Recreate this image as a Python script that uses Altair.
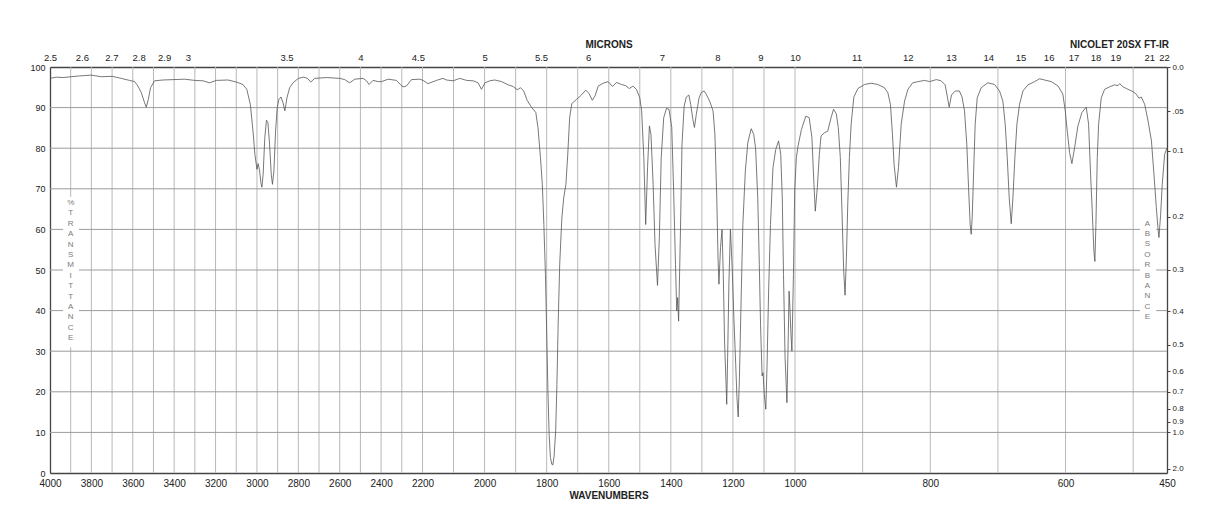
import altair as alt
import pandas as pd

# ---------------- data ----------------
WAVENUMBER = [
    4000, 3970, 3938, 3898, 3857, 3801, 3753, 3699, 3656, 3616, 3591, 3575, 3559, 3543, 3535,
    3525, 3514, 3495, 3454, 3401, 3350, 3301, 3261, 3229, 3196, 3140, 3100, 3068, 3049, 3032,
    3019, 3010, 3000, 2994, 2987, 2981, 2976, 2970, 2962, 2954, 2947, 2939, 2931, 2925, 2918,
    2910, 2902, 2894, 2884, 2874, 2865, 2855, 2842, 2826, 2800, 2774, 2756, 2740, 2721, 2664,
    2600, 2576, 2552, 2527, 2487, 2471, 2458, 2439, 2414, 2398, 2366, 2326, 2307, 2294, 2278,
    2253, 2213, 2198, 2182,
    2155, 2134, 2123, 2101, 2080, 2058, 2037, 2021, 2010, 1999, 1983, 1967, 1945, 1924, 1908,
    1895, 1884, 1874, 1863, 1849, 1835, 1828, 1820, 1814, 1809, 1804, 1800, 1796, 1792, 1788,
    1783, 1780, 1776, 1771, 1767, 1763, 1758, 1751, 1745, 1738, 1732, 1726, 1719, 1704, 1688,
    1674, 1663, 1653, 1644, 1634, 1618, 1602, 1588, 1575, 1559, 1545, 1534, 1522, 1511, 1500,
    1494, 1487, 1481, 1475, 1469, 1464, 1457, 1451, 1443, 1437, 1431, 1423, 1414, 1406, 1397,
    1391, 1385, 1381, 1378, 1375, 1369, 1364, 1357, 1350, 1342, 1336, 1329, 1324, 1318, 1309,
    1302, 1293, 1286, 1275, 1264, 1258, 1252, 1248, 1245, 1240, 1235, 1231, 1227, 1222, 1220,
    1217, 1213, 1208, 1202, 1197, 1191, 1187, 1183, 1179, 1173, 1168, 1160, 1152, 1141, 1133,
    1127, 1120, 1115, 1111, 1106, 1103, 1099, 1094, 1090, 1085, 1079, 1071, 1062, 1053, 1046,
    1041, 1037, 1032, 1026, 1022, 1019, 1016, 1013, 1010, 1005, 1001,
    998, 995.5, 990.5, 984, 979, 975, 972, 970, 967, 964,
    961.5, 956.5, 951.6, 946.7, 943, 939, 936, 933, 930.4, 928, 926, 924, 922, 919.6, 917,
    913, 907, 897, 887.5, 877.7, 867.8, 862.8, 858.9, 855.9, 853.5, 850, 847, 843, 838, 833,
    826, 818, 808.5, 801, 791, 784, 778, 774.5, 772, 768.6, 763, 757, 753, 749.4, 746,
    743.4, 741, 739.5, 738, 736, 733.6, 730.6, 724.7, 715, 705, 697.6, 692.7, 689.2, 686.2,
    683.3, 680.3, 677.8, 674.9, 671.9, 668, 663, 655.6, 645.8, 638.4, 631, 621, 611, 604,
    600.4, 597.5, 594, 590.6, 586.6, 581.7, 575.8, 569.4, 565.9, 563, 560.5, 558.1, 556.6,
    555.1, 553.1, 551.1, 547.2, 542.3, 535, 527.5, 522.5, 520, 515, 510, 505, 500, 495.4,
    491.5, 488, 483, 478, 473, 469.3, 465.8, 463.4, 461.9, 459.4, 457, 453.5, 450,
]
TRANSMITTANCE = [
    97.2, 97.5, 97.4, 97.6, 97.8, 98.0, 97.6, 97.7, 97.2, 96.7, 96.4, 95.3, 93.7, 91.2, 90.1,
    92.0, 94.9, 96.6, 96.8, 96.9, 97.0, 96.7, 96.6, 96.1, 96.7, 96.8, 96.3, 95.7, 94.5, 90.8,
    84.2, 78.5, 74.8, 76.2, 74.4, 71.5, 70.4, 73.6, 82.6, 86.9, 86.3, 81.0, 73.6, 71.1, 74.4,
    84.2, 90.0, 92.0, 92.6, 91.2, 89.2, 92.4, 94.9, 96.1, 97.2, 97.5, 97.2, 96.3, 97.2, 97.4,
    97.2, 96.9, 96.1, 97.0, 97.2, 96.6, 95.7, 96.7, 96.4, 96.4, 97.0, 96.7, 95.7, 95.1, 95.3,
    96.9, 97.0, 96.7, 95.9,
    96.7, 97.2, 96.8, 96.6, 97.2, 96.7, 96.6, 96.1, 94.5, 96.1, 96.6, 96.8, 96.4, 95.6, 95.2,
    94.4, 94.9, 94.1, 91.8, 90.1, 88.8, 85.1, 77.7, 71.1, 61.2, 48.9, 35.0, 20.2, 9.5, 3.8,
    2.1, 2.0, 4.2, 10.3, 21.8, 36.6, 51.4, 62.9, 67.8, 71.1, 78.5, 87.5, 91.0, 92.0, 93.1,
    94.3, 93.4, 91.8, 92.9, 95.3, 96.0, 96.4, 95.2, 96.2, 95.7, 95.4, 94.7, 95.3, 94.5, 92.4,
    89.2, 77.7, 61.2, 75.2, 85.5, 83.4, 71.1, 56.3, 46.2, 58.0, 77.7, 87.5, 89.8, 89.6, 85.1,
    69.5, 51.4, 39.9, 43.2, 37.4, 59.6, 81.0, 90.4, 92.6, 93.1, 90.8, 87.1, 85.1, 88.3, 92.4,
    93.7, 94.1, 93.3, 91.6, 89.2, 83.4, 67.8, 53.0, 46.5, 55.5, 60.0, 48.9, 32.5, 21.8, 16.9,
    28.4, 46.5, 60.0, 49.8, 38.3, 26.8, 18.6, 13.8, 23.5, 44.8, 61.2, 74.4, 81.4, 84.8, 83.4,
    80.1, 67.8, 51.4, 36.6, 23.9, 24.7, 19.4, 15.7, 26.8, 44.8, 61.2, 75.2, 79.7, 81.8, 78.5,
    67.8, 48.9, 28.4, 17.3, 32.5, 44.8, 39.9, 34.2, 30.0, 48.9, 69.5,
    77.7, 80.5, 84.6, 87.9, 87.5, 82.6, 71.1, 64.5, 70.3, 78.5,
    83.0, 83.8, 84.2, 87.5, 89.6, 88.5, 85.1, 77.7, 63.7, 49.8, 43.8, 53.0, 66.2, 77.7, 85.9,
    92.6, 94.7, 95.7, 96.0, 95.7, 94.9, 93.7, 90.8, 83.4, 76.0, 70.4, 75.2, 85.9, 91.6, 94.5,
    96.1, 96.4, 96.7, 96.4, 96.9, 96.6, 95.6, 92.4, 90.1, 93.1, 94.1, 94.1, 92.6, 89.2, 81.0,
    70.3, 61.2, 58.8, 62.9, 73.6, 85.9, 92.4, 94.9, 96.1, 95.7, 94.1, 91.6, 85.9, 77.7,
    67.8, 61.4, 67.8, 77.7, 85.9, 90.8, 94.1, 95.6, 96.4, 97.1, 96.8, 96.4, 95.3, 93.3,
    89.2, 84.2, 78.9, 76.2, 80.1, 85.5, 88.8, 90.1, 85.9, 73.6, 64.5, 54.7, 52.1,
    61.2, 77.7, 85.9, 92.4, 94.5, 95.1, 95.6, 95.4, 95.9, 95.1, 94.7, 94.3, 93.9, 93.3,
    92.3, 92.6, 90.8, 86.7, 81.8, 73.6, 65.4, 60.4, 58.0, 63.7, 71.1, 78.5, 80.1,
]

# axes / grid
X_BREAKS = [4000, 2200, 1000, 450]
X_TICKS = [4000, 3800, 3600, 3400, 3200, 3000, 2800, 2600, 2400, 2200,
           2000, 1800, 1600, 1400, 1200, 1000, 800, 600, 450]
GRID_WN = list(range(3900, 400, -100))
Y_TICKS = list(range(0, 101, 10))
GRID_T = list(range(10, 100, 10))
MICRONS = [2.5, 2.6, 2.7, 2.8, 2.9, 3, 3.5, 4, 4.5, 5, 5.5, 6, 7, 8, 9, 10,
           11, 12, 13, 14, 15, 16, 17, 18, 19, 21, 22]
ABSORBANCE = [0.0, 0.05, 0.1, 0.2, 0.3, 0.4, 0.5, 0.6, 0.7, 0.8, 0.9, 1.0, 2.0]

# label-column backgrounds (wavenumber span, %T span)
LABEL_BOX_WN1 = [3937, 490]
LABEL_BOX_WN2 = [3860, 466]
LABEL_BOX_T1 = [31, 37.5]
LABEL_BOX_T2 = [68, 62.3]

W, H = 1117, 406
FONT = "Liberation Sans"
INK = "#222222"

x_scale = alt.Scale(domain=X_BREAKS, range=[0, 372.5, 745, W], nice=False, zero=False)
y_scale = alt.Scale(domain=[0, 100], nice=False, zero=False)

spec_df = pd.DataFrame({"wn": WAVENUMBER, "t": TRANSMITTANCE,
                        "i": list(range(len(WAVENUMBER)))})
one = pd.DataFrame({"k": [0]})

vgrid = alt.Chart(pd.DataFrame({"wn": GRID_WN})).mark_rule(
    color="#b8b8b8", strokeWidth=1
).encode(x=alt.X("wn:Q", scale=x_scale, axis=None))

hgrid = alt.Chart(pd.DataFrame({"t": GRID_T})).mark_rule(
    color="#9c9c9c", strokeWidth=1
).encode(y=alt.Y("t:Q", scale=y_scale, axis=None))

boxes = alt.Chart(pd.DataFrame({
    "wn1": LABEL_BOX_WN1, "wn2": LABEL_BOX_WN2, "t1": LABEL_BOX_T1, "t2": LABEL_BOX_T2,
})).mark_rect(color="white").encode(
    x=alt.X("wn1:Q", scale=x_scale, axis=None), x2="wn2:Q",
    y=alt.Y("t1:Q", scale=y_scale, axis=None), y2="t2:Q",
)

txt_left = alt.Chart(one).mark_text(
    font=FONT, fontSize=8, color="#7a7a7a", lineHeight=10.4,
    align="center", baseline="middle"
).encode(x=alt.value(20.7), y=alt.value(136), text=alt.value(list("%TRANSMITTANCE")))

txt_right = alt.Chart(one).mark_text(
    font=FONT, fontSize=8, color="#7a7a7a", lineHeight=10.4,
    align="center", baseline="middle"
).encode(x=alt.value(1097.3), y=alt.value(156.7), text=alt.value(list("ABSORBANCE")))

spectrum = alt.Chart(spec_df).mark_line(color="#555555", strokeWidth=0.8).encode(
    x=alt.X("wn:Q", scale=x_scale, axis=alt.Axis(
        orient="bottom", values=X_TICKS, format="d", grid=False, ticks=False,
        domainColor="#444444", domainWidth=1.3, labelFont=FONT, labelFontSize=10,
        labelColor=INK, labelPadding=5, labelFlush=False, labelOverlap=False,
        title="WAVENUMBERS", titleFont=FONT, titleFontSize=10, titleFontWeight="bold",
        titleColor=INK, titlePadding=2)),
    y=alt.Y("t:Q", scale=y_scale, axis=alt.Axis(
        orient="left", values=Y_TICKS, format="d", grid=False, ticks=False,
        domainColor="#444444", domainWidth=1.3, labelFont=FONT, labelFontSize=9,
        labelColor=INK, labelPadding=5, labelFlush=False, labelOverlap=False,
        title=None)),
    order="i:Q",
)

micron_axis = alt.Chart(pd.DataFrame({"um": MICRONS})).transform_calculate(
    wn="10000 / datum.um"
).mark_point(opacity=0).encode(
    x=alt.X("wn:Q", scale=x_scale, axis=alt.Axis(
        orient="top", values=[10000 / m for m in MICRONS],
        labelExpr="'' + round(100000 / datum.value) / 10",
        grid=False, ticks=False, domainColor="#444444", domainWidth=1.3,
        labelFont=FONT, labelFontSize=9.5, labelColor=INK, labelPadding=5,
        labelFlush=False, labelOverlap=False,
        title="MICRONS", titleFont=FONT, titleFontSize=10, titleFontWeight="bold",
        titleColor=INK, titlePadding=3)),
)

abs_axis = alt.Chart(pd.DataFrame({"a": ABSORBANCE})).transform_calculate(
    t="100 * pow(10, -datum.a)"
).mark_point(opacity=0).encode(
    y=alt.Y("t:Q", scale=y_scale, axis=alt.Axis(
        orient="right", values=[100 * 10 ** (-a) for a in ABSORBANCE],
        labelExpr=("datum.value > 99 ? '0.0' : datum.value > 85 ? '.05' : "
                   "format(-log(datum.value / 100) / LN10, '.1f')"),
        grid=False, ticks=True, tickSize=3, tickColor="#444444",
        domainColor="#444444", domainWidth=1.3,
        labelFont=FONT, labelFontSize=8, labelColor=INK, labelPadding=2,
        labelFlush=False, labelOverlap=False, title=None)),
)

nicolet = alt.Chart(one).mark_text(
    font=FONT, fontSize=10, fontWeight="bold", color=INK,
    align="right", baseline="middle"
).encode(x=alt.value(1119), y=alt.value(-22), text=alt.value("NICOLET 20SX FT-IR"))

chart = alt.layer(
    vgrid, hgrid, boxes, txt_left, txt_right,
    spectrum, micron_axis, abs_axis, nicolet
).resolve_axis(
    x="independent", y="independent"
).properties(
    width=W, height=H,
    autosize=alt.AutoSizeParams(type="none"),
    padding={"left": 50, "top": 67, "right": 51, "bottom": 55},
).configure_view(stroke=None).configure(background="white")

chart.save("out.html", embed_options={"renderer": "svg", "actions": False})
